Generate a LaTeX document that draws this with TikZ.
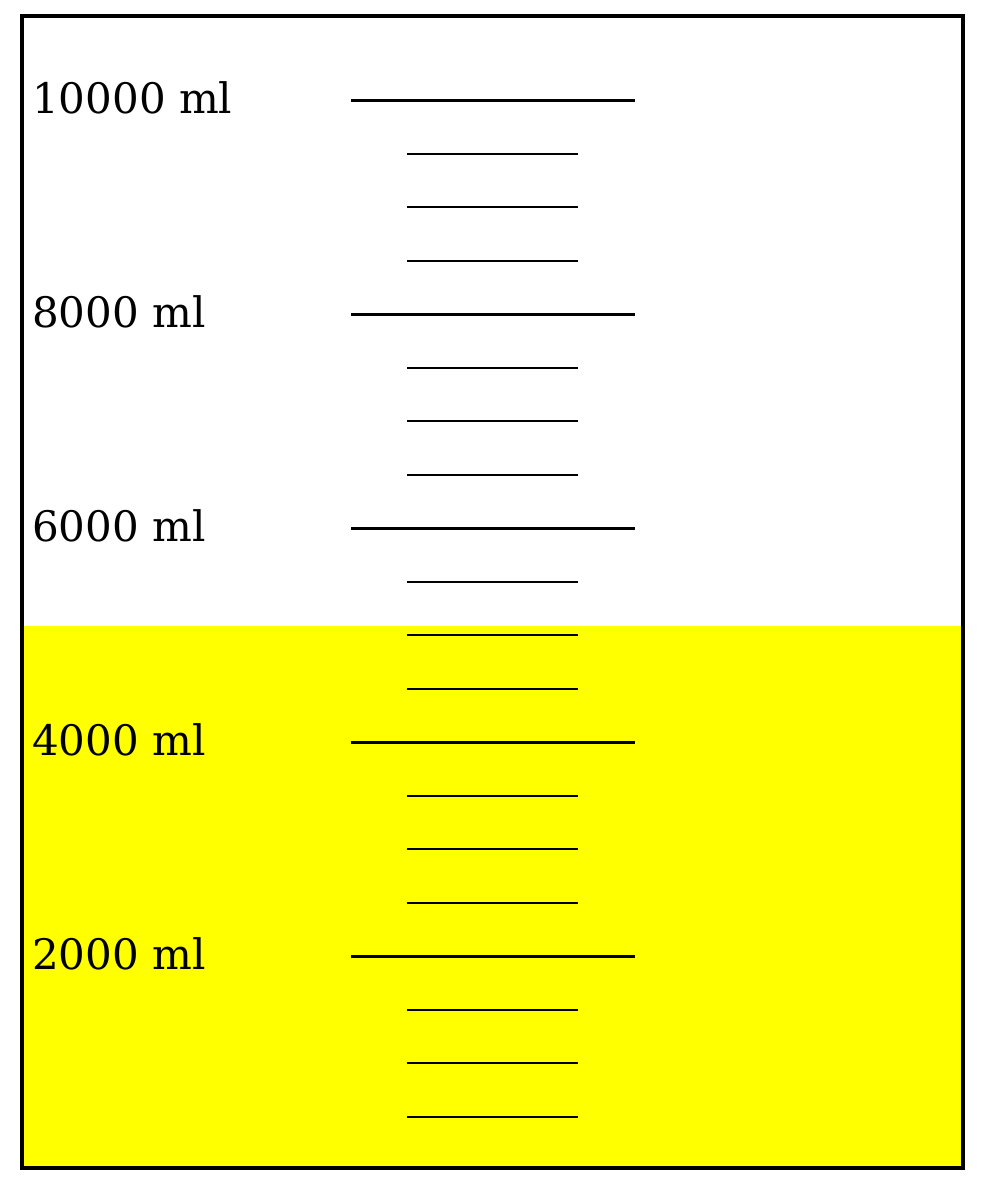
\documentclass[tikz,border=0pt]{standalone}
\usepackage{fontspec}
\setmainfont{DejaVu Serif}
\definecolor{liquid}{RGB}{255,255,0}
\begin{document}
\begin{tikzpicture}[x=1pt,y=-1pt,
  major/.style={line width=3pt,black},
  minor/.style={line width=2.2pt,black},
  lab/.style={anchor=base west,inner sep=0pt,font=\fontsize{42}{42}\selectfont}]
\useasboundingbox (0,0) rectangle (985,1185);
\fill[white] (0,0) rectangle (985,1185);
\fill[liquid] (22,626) rectangle (963,1168);
\draw[line width=3.5pt] (22,16) rectangle (963,1168);
\foreach \y/\t in {101/10000 ml,314/8000 ml,528/6000 ml,742/4000 ml,956/2000 ml}{
  \draw[major] (351,\y) -- (635,\y);
  \node[lab] (l\y) at (32,\y+13) {\t};
}
\foreach \y in {154,207,261,368,421,475,582,635,689,796,849,903,1010,1063,1117}{
  \draw[minor] (407,\y) -- (578,\y);
}
\end{tikzpicture}
\end{document}
